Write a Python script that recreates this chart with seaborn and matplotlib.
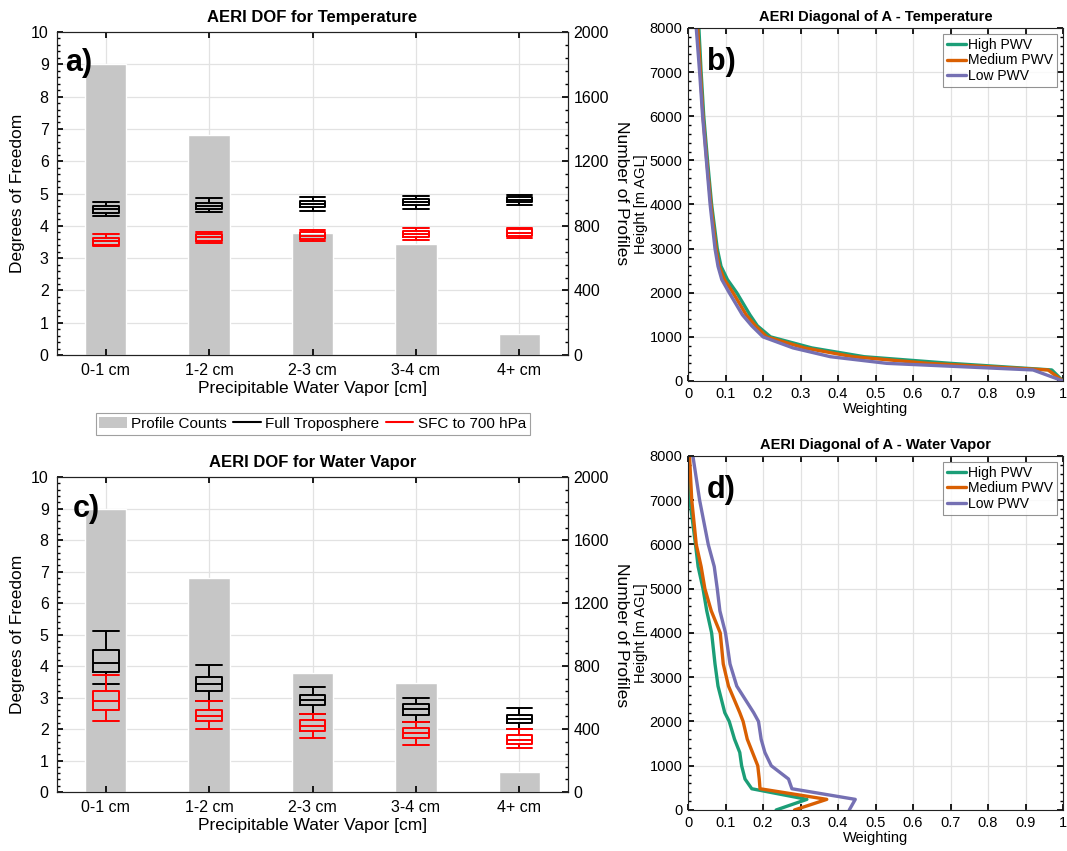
import numpy as np
import pandas as pd
import matplotlib
matplotlib.use("Agg")
import matplotlib.pyplot as plt
from matplotlib.patches import Patch
from matplotlib.lines import Line2D
from matplotlib.ticker import MultipleLocator
import seaborn as sns

# ---- data ----
pwv_bins = ["0-1 cm", "1-2 cm", "2-3 cm", "3-4 cm", "4+ cm"]
profile_counts = [1800, 1360, 755, 690, 130]

# box stats per PWV bin: (whisker low, q1, median, q3, whisker high)
temp_full = [(4.30, 4.40, 4.51, 4.61, 4.75), (4.44, 4.51, 4.61, 4.71, 4.85),
             (4.47, 4.59, 4.68, 4.78, 4.90), (4.51, 4.63, 4.74, 4.84, 4.93),
             (4.64, 4.73, 4.80, 4.88, 4.94)]
temp_sfc = [(3.37, 3.42, 3.53, 3.63, 3.74), (3.46, 3.53, 3.64, 3.74, 3.82),
            (3.53, 3.59, 3.69, 3.80, 3.87), (3.56, 3.64, 3.75, 3.85, 3.92),
            (3.63, 3.68, 3.79, 3.89, 3.94)]
wv_full = [(3.43, 3.80, 4.10, 4.52, 5.12), (2.88, 3.22, 3.43, 3.66, 4.02),
           (2.48, 2.75, 2.93, 3.09, 3.32), (2.22, 2.46, 2.63, 2.78, 3.00),
           (2.01, 2.20, 2.32, 2.45, 2.67)]
wv_sfc = [(2.25, 2.61, 2.90, 3.20, 3.73), (2.01, 2.27, 2.43, 2.62, 2.88),
          (1.72, 1.95, 2.11, 2.29, 2.48), (1.50, 1.71, 1.88, 2.04, 2.22),
          (1.41, 1.54, 1.66, 1.80, 2.01)]

# diagonal of averaging kernel, temperature
height_t = [0, 250, 400, 550, 750, 1000, 1250, 1500, 2000, 2300, 2600, 3000,
            4000, 5000, 6000, 7000, 8000]
temp_high = [1.00, 0.97, 0.70, 0.47, 0.33, 0.22, 0.185, 0.165, 0.13, 0.105,
             0.088, 0.078, 0.063, 0.052, 0.042, 0.035, 0.029]
temp_med = [1.00, 0.96, 0.64, 0.44, 0.31, 0.21, 0.18, 0.155, 0.12, 0.097,
            0.083, 0.075, 0.061, 0.050, 0.040, 0.033, 0.026]
temp_low = [1.00, 0.92, 0.53, 0.38, 0.28, 0.20, 0.17, 0.145, 0.11, 0.09,
            0.080, 0.072, 0.059, 0.049, 0.039, 0.031, 0.022]

# diagonal of averaging kernel, water vapour
height_q = [0, 240, 480, 700, 1000, 1300, 1600, 2000, 2200, 2800, 3300, 4000,
            4500, 5000, 5500, 6000, 7000, 8000]
wv_high = [0.235, 0.317, 0.170, 0.152, 0.143, 0.138, 0.124, 0.110, 0.098, 0.080,
           0.072, 0.063, 0.050, 0.040, 0.027, 0.020, 0.005, 0.000]
wv_med = [0.284, 0.370, 0.192, 0.190, 0.186, 0.172, 0.158, 0.147, 0.138, 0.108,
          0.094, 0.086, 0.062, 0.045, 0.035, 0.022, 0.010, 0.004]
wv_low = [0.430, 0.446, 0.277, 0.268, 0.222, 0.205, 0.195, 0.188, 0.175, 0.130,
          0.112, 0.100, 0.085, 0.078, 0.070, 0.054, 0.031, 0.013]

pwv_classes = ["High PWV", "Medium PWV", "Low PWV"]
class_colors = ["#1b9e77", "#d95f02", "#7570b3"]

sns.set_theme(style="white")
plt.rcParams["font.family"] = ["Liberation Sans", "DejaVu Sans"]
plt.rcParams.update({"axes.edgecolor": "#222222", "text.color": "black",
                     "axes.labelcolor": "black", "xtick.color": "black",
                     "ytick.color": "black"})
grid_col = "#e2e2e2"


def box_frame(stats):
    rows = [(b, v) for b, s in zip(pwv_bins, stats) for v in s]
    return pd.DataFrame(rows, columns=["pwv", "dof"])


def dof_panel(ax, full, sfc, title, tag, tag_xy):
    ax2 = ax.twinx()
    ax.set_zorder(ax2.get_zorder() + 1)
    ax.patch.set_visible(False)

    # grid lives on the back axes so the bars cover it
    for i in range(len(pwv_bins)):
        ax2.axvline(i, color=grid_col, lw=0.9, zorder=0)
    for v in np.arange(200, 2000, 200):
        ax2.axhline(v, color=grid_col, lw=0.9, zorder=0)

    sns.barplot(x=pwv_bins, y=profile_counts, color="#c6c6c6", saturation=1,
                width=0.4, errorbar=None, ax=ax2, zorder=2)
    for stats, col in [(full, "black"), (sfc, "red")]:
        sns.boxplot(data=box_frame(stats), x="pwv", y="dof", order=pwv_bins,
                    color=col, linecolor=col, fill=False, width=0.25,
                    whis=(0, 100), linewidth=1.4, capwidths=0.25, ax=ax)

    ax.set_xlim(-0.47, 4.47)
    ax.set_ylim(0, 10)
    ax.set_yticks(range(0, 11))
    ax.yaxis.set_minor_locator(MultipleLocator(0.2))
    ax2.set_ylim(0, 2000)
    ax2.yaxis.set_major_locator(MultipleLocator(400))
    ax2.yaxis.set_minor_locator(MultipleLocator(80))

    ax.tick_params(axis="both", which="major", direction="in", length=4,
                   labelsize=11.5, top=True, bottom=True, pad=6)
    ax.tick_params(axis="y", which="minor", direction="in", length=2, left=True)
    ax2.tick_params(axis="y", which="major", direction="in", length=4,
                    labelsize=11.5, pad=4)
    ax2.tick_params(axis="y", which="minor", direction="in", length=2, right=True)
    ax.set_xlabel("Precipitable Water Vapor [cm]", fontsize=12.5, labelpad=2)
    ax.set_ylabel("Degrees of Freedom", fontsize=12.5, labelpad=4)
    ax2.set_ylabel("Number of Profiles", fontsize=12.5, rotation=270, labelpad=14)
    ax.set_title(title, fontsize=12, fontweight="bold", pad=7)
    for a in (ax, ax2):
        for s in a.spines.values():
            s.set_linewidth(0.8)
    ax.text(tag_xy[0], tag_xy[1], tag, transform=ax.transAxes, fontsize=22,
            fontweight="bold", va="center", ha="left", zorder=5)


def kernel_panel(ax, height, series, title, tag):
    df = pd.DataFrame({
        "height": np.tile(height, 3),
        "weight": np.concatenate(series),
        "pwv": np.repeat(pwv_classes, len(height)),
    })
    sns.lineplot(data=df, x="weight", y="height", hue="pwv", hue_order=pwv_classes,
                 palette=class_colors, orient="y", sort=False, lw=2.4, ax=ax)
    ax.set_xlim(0, 1)
    ax.set_ylim(0, 8000)
    ax.set_xticks(np.arange(0, 1.01, 0.1))
    ax.set_xticklabels(["0"] + [f"{v:.1f}" for v in np.arange(0.1, 0.95, 0.1)] + ["1"])
    ax.yaxis.set_major_locator(MultipleLocator(1000))
    ax.yaxis.set_minor_locator(MultipleLocator(200))
    ax.grid(True, which="major", color=grid_col, lw=0.9)
    ax.tick_params(axis="both", which="major", direction="in", length=4,
                   labelsize=10.5, top=True, right=True, bottom=True, left=True, pad=4)
    ax.tick_params(axis="y", which="minor", direction="in", length=2, left=True, right=True)
    ax.set_xlabel("Weighting", fontsize=10.5, labelpad=1)
    ax.set_ylabel("Height [m AGL]", fontsize=10.5, labelpad=1)
    ax.set_title(title, fontsize=10.5, fontweight="bold", pad=5)
    for s in ax.spines.values():
        s.set_linewidth(0.8)
    leg = ax.legend(loc="upper right", fontsize=10, handlelength=1.4,
                    handletextpad=0.15, labelspacing=0.12, borderpad=0.3,
                    fancybox=False, borderaxespad=0.4)
    leg.get_frame().set_edgecolor("#777777")
    leg.get_frame().set_linewidth(0.8)
    for h in leg.get_lines():
        h.set_linewidth(2.4)
    ax.text(0.05, 0.905, tag, transform=ax.transAxes, fontsize=22,
            fontweight="bold", va="center", ha="left")


fig = plt.figure(figsize=(10.67, 8.51), dpi=100)
ax_a = fig.add_axes([0.0534, 0.5828, 0.479, 0.3796])
ax_c = fig.add_axes([0.0534, 0.0693, 0.479, 0.370])
ax_b = fig.add_axes([0.6448, 0.5523, 0.3515, 0.4148])
ax_d = fig.add_axes([0.6448, 0.0482, 0.3515, 0.416])

dof_panel(ax_a, temp_full, temp_sfc, "AERI DOF for Temperature", "a)", (0.015, 0.905))
dof_panel(ax_c, wv_full, wv_sfc, "AERI DOF for Water Vapor", "c)", (0.03, 0.90))
kernel_panel(ax_b, height_t, [temp_high, temp_med, temp_low],
             "AERI Diagonal of A - Temperature", "b)")
kernel_panel(ax_d, height_q, [wv_high, wv_med, wv_low],
             "AERI Diagonal of A - Water Vapor", "d)")

handles = [Patch(facecolor="#c6c6c6", edgecolor="none"),
           Line2D([], [], color="black", lw=1.5),
           Line2D([], [], color="red", lw=1.5)]
leg = fig.legend(handles, ["Profile Counts", "Full Troposphere", "SFC to 700 hPa"],
                 loc="center", bbox_to_anchor=(0.293, 0.502), ncol=3, fontsize=11,
                 fancybox=False, handlelength=1.8, handletextpad=0.3,
                 columnspacing=0.4, borderpad=0.25)
leg.get_frame().set_edgecolor("#888888")
leg.get_frame().set_linewidth(0.8)

fig.savefig("out.png", dpi=100)
